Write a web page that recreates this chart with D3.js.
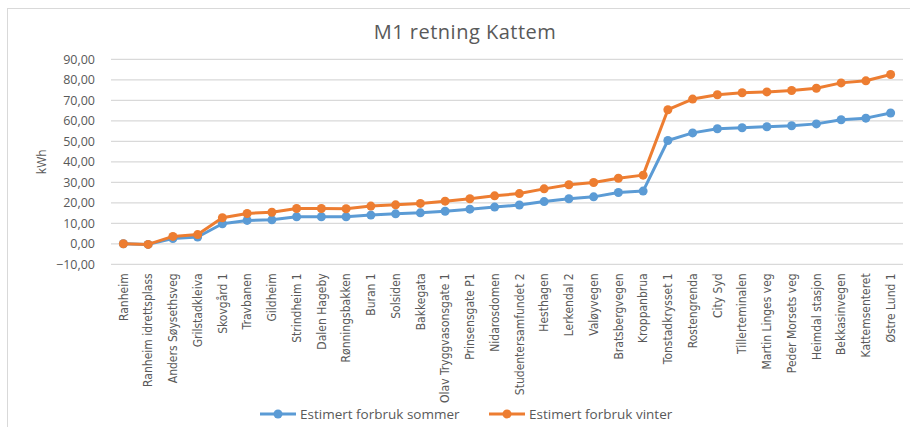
<!DOCTYPE html>
<html>
<head>
<meta charset="utf-8">
<script src="https://cdn.jsdelivr.net/npm/d3@7"></script>
<style>
  body { margin: 0; background: #fff; }
  text { font-family: "Liberation Sans Narrow", "DejaVu Sans Condensed", sans-serif; fill: #595959; }
</style>
</head>
<body>
<div id="chart"></div>
<script>
const stops = ["Ranheim", "Ranheim idrettsplass", "Anders Søysethsveg", "Grilstadkleiva", "Skovgård 1",
  "Travbanen", "Gildheim", "Strindheim 1", "Dalen Hageby", "Rønningsbakken", "Buran 1", "Solsiden",
  "Bakkegata", "Olav Tryggvasonsgate 1", "Prinsensgate P1", "Nidarosdomen", "Studentersamfundet 2",
  "Hesthagen", "Lerkendal 2", "Valøyvegen", "Bratsbergvegen", "Kroppanbrua", "Tonstadkrysset 1",
  "Rostengrenda", "City Syd", "Tillerteminalen", "Martin Linges veg", "Peder Morsets veg",
  "Heimdal stasjon", "Bekkasinvegen", "Kattemsenteret", "Østre Lund 1"];
const sommer = [0, -0.3, 2.6, 3.3, 9.8, 11.4, 11.7, 13.2, 13.2, 13.2, 14.0, 14.6, 15.1, 15.9, 16.9,
  17.9, 18.9, 20.6, 22.0, 22.9, 25.0, 25.7, 50.4, 54.1, 56.1, 56.6, 57.1, 57.6, 58.5, 60.5, 61.3, 63.8];
const vinter = [0, -0.3, 3.6, 4.5, 12.7, 14.8, 15.4, 17.2, 17.2, 17.1, 18.4, 19.0, 19.7, 20.8, 22.0,
  23.4, 24.5, 26.8, 28.8, 29.9, 32.0, 33.5, 65.4, 70.6, 72.7, 73.7, 74.1, 74.8, 75.9, 78.5, 79.5, 82.6];
const yTicks = [-10, 0, 10, 20, 30, 40, 50, 60, 70, 80, 90];
const series = [
  {name: "Estimert forbruk sommer", values: sommer, color: "#5B9BD5"},
  {name: "Estimert forbruk vinter", values: vinter, color: "#ED7D31"}
];

const width = 910, height = 427;
const plotLeft = 111, plotRight = 903, plotTop = 59.3, plotBottom = 264.3;

const svg = d3.select("#chart").append("svg")
    .attr("width", width)
    .attr("height", height);

// chart frame (right side runs off the picture)
svg.append("rect")
    .attr("x", 7.5).attr("y", 8.5)
    .attr("width", 920).attr("height", 430)
    .attr("fill", "none")
    .attr("stroke", "#d9d9d9");

svg.append("text")
    .attr("x", 465).attr("y", 39)
    .attr("text-anchor", "middle")
    .style("font-family", "'Open Sans', sans-serif")
    .style("font-size", "20px")
    .style("letter-spacing", "0.5px")
    .text("M1 retning Kattem");

const x = d3.scaleBand().domain(stops).range([plotLeft, plotRight]);
const y = d3.scaleLinear().domain([-10, 90]).range([plotBottom, plotTop]);

// gridlines
svg.append("g")
  .selectAll("line")
  .data(yTicks)
  .enter().append("line")
    .attr("x1", plotLeft).attr("x2", plotRight)
    .attr("y1", d => y(d)).attr("y2", d => y(d))
    .attr("stroke", "#d9d9d9")
    .attr("stroke-width", 1.3);

const yAxis = svg.append("g")
    .attr("transform", "translate(" + (plotLeft - 13) + ",0)")
    .call(d3.axisLeft(y).tickValues(yTicks).tickSize(0)
      .tickFormat(d => d3.format(".2f")(d).replace(".", ",")));
yAxis.select(".domain").remove();
yAxis.selectAll("text")
    .style("font-family", "'Open Sans', sans-serif")
    .style("font-size", "12.5px")
    .attr("fill", "#595959");

svg.append("text")
    .attr("transform", "translate(46," + y(40) + ")rotate(-90)")
    .attr("text-anchor", "middle")
    .style("font-family", "'Open Sans', sans-serif")
    .style("font-size", "12px")
    .text("kWh");

// category labels
const xAxis = svg.append("g")
    .attr("transform", "translate(0," + plotBottom + ")")
    .call(d3.axisBottom(x).tickSize(0));
xAxis.select(".domain").remove();
xAxis.selectAll("text")
    .attr("fill", "#595959")
    .style("font-size", "12px")
    .attr("text-anchor", "end")
    .attr("transform", "rotate(-90)")
    .attr("x", -9)
    .attr("y", 0)
    .attr("dy", "0.35em");

const line = d3.line()
    .x((d, i) => x(stops[i]) + x.bandwidth() / 2)
    .y(d => y(d));

series.forEach(s => {
  svg.append("path")
      .datum(s.values)
      .attr("fill", "none")
      .attr("stroke", s.color)
      .attr("stroke-width", 3)
      .attr("stroke-linejoin", "round")
      .attr("d", line);
  svg.append("g")
    .selectAll("circle")
    .data(s.values)
    .enter().append("circle")
      .attr("cx", (d, i) => x(stops[i]) + x.bandwidth() / 2)
      .attr("cy", d => y(d))
      .attr("r", 4.5)
      .attr("fill", s.color);
});

// legend
const legendX = [260, 489];
const legend = svg.append("g")
  .selectAll("g")
  .data(series)
  .enter().append("g")
    .attr("transform", (d, i) => "translate(" + legendX[i] + ",414)");
legend.append("line")
    .attr("x1", 0).attr("x2", 36)
    .attr("stroke", d => d.color)
    .attr("stroke-width", 3);
legend.append("circle")
    .attr("cx", 18).attr("r", 4.5)
    .attr("fill", d => d.color);
legend.append("text")
    .attr("x", 40).attr("dy", "0.35em")
    .style("font-family", "'Open Sans', sans-serif")
    .style("font-size", "13.5px")
    .text(d => d.name);
</script>
</body>
</html>
